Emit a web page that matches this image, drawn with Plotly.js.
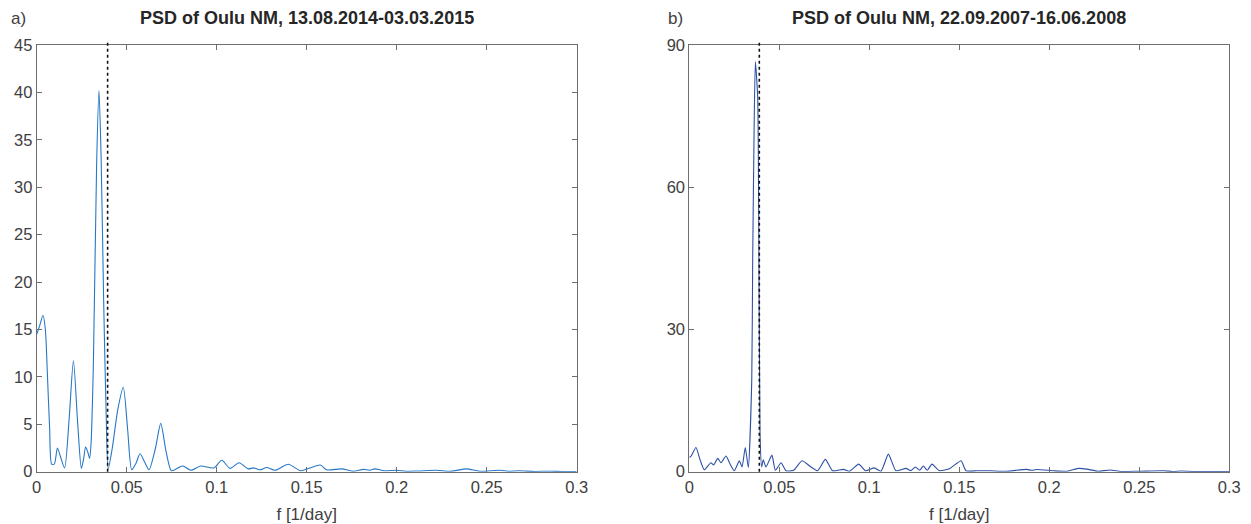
<!DOCTYPE html>
<html>
<head>
<meta charset="utf-8">
<script src="https://cdn.plot.ly/plotly-3.0.1.min.js"></script>
<style>html,body{margin:0;padding:0;background:#fff;}#chart{width:1251px;height:524px;}</style>
</head>
<body>
<div id="chart"></div>
<script>
// Panel a) PSD of Oulu NM, 13.08.2014-03.03.2015
const freqA = [0, 0.0015, 0.0035, 0.0048, 0.006, 0.0072, 0.0083, 0.0098, 0.0115, 0.0132, 0.0155, 0.018, 0.0204, 0.0228, 0.0248, 0.026, 0.0272, 0.0285, 0.0294, 0.0302, 0.0315, 0.0333, 0.0346, 0.0358, 0.0372, 0.0386, 0.0397, 0.042, 0.045, 0.0481, 0.0505, 0.0528, 0.0552, 0.0574, 0.06, 0.0624, 0.066, 0.0689, 0.072, 0.0748, 0.0785, 0.0813, 0.0856, 0.091, 0.0985, 0.1028, 0.1074, 0.1124, 0.1176, 0.1204, 0.124, 0.1278, 0.1324, 0.1398, 0.1465, 0.152, 0.1576, 0.161, 0.1694, 0.176, 0.1815, 0.185, 0.188, 0.193, 0.2, 0.205, 0.212, 0.2222, 0.23, 0.2389, 0.246, 0.2574, 0.262, 0.268, 0.276, 0.285, 0.292, 0.3];
const psdA = [14.5, 15.3, 16.5, 15.0, 10, 4.5, 0.8, 0.8, 2.5, 1.6, 0.4, 5.5, 11.7, 5, 0.35, 1.3, 2.6, 2.0, 1.4, 3, 11.5, 32.5, 40.2, 33, 18, 6, 0.3, 2.5, 6.5, 8.9, 4.5, 0.2, 0.9, 1.9, 1.0, 0.2, 2.5, 5.1, 2.0, 0.1, 0.4, 0.6, 0.15, 0.6, 0.4, 1.2, 0.35, 0.95, 0.3, 0.4, 0.2, 0.45, 0.15, 0.78, 0.1, 0.4, 0.7, 0.2, 0.3, 0.05, 0.25, 0.15, 0.3, 0.1, 0.15, 0.05, 0.08, 0.15, 0.05, 0.3, 0.05, 0.15, 0.05, 0.1, 0.03, 0.05, 0.02, 0.02];
const markerA = 0.0394;

// Panel b) PSD of Oulu NM, 22.09.2007-16.06.2008
const freqB = [0, 0.001, 0.0037, 0.006, 0.0083, 0.012, 0.0135, 0.0158, 0.0176, 0.0204, 0.0228, 0.025, 0.0278, 0.0293, 0.0311, 0.0328, 0.0347, 0.0352, 0.036, 0.0367, 0.038, 0.0386, 0.0393, 0.0402, 0.0411, 0.0426, 0.0459, 0.0478, 0.051, 0.0537, 0.058, 0.0626, 0.0676, 0.0713, 0.0756, 0.0796, 0.0856, 0.089, 0.0941, 0.098, 0.1028, 0.1065, 0.1106, 0.1148, 0.1204, 0.123, 0.1256, 0.128, 0.13, 0.1322, 0.1348, 0.139, 0.1448, 0.151, 0.1537, 0.16, 0.167, 0.176, 0.1874, 0.19, 0.193, 0.2024, 0.21, 0.2161, 0.2208, 0.227, 0.2337, 0.24, 0.25, 0.2633, 0.2685, 0.2737, 0.28, 0.288, 0.3];
const psdB = [3.0, 3.3, 5.1, 2.5, 0.4, 1.9, 1.4, 2.8, 1.9, 3.3, 1.5, 0.2, 2.3, 1.0, 5.1, 0.9, 19.4, 44, 72, 86.5, 79, 51, 8, 1.0, 2.5, 1.0, 3.5, 0.3, 1.9, 0.2, 0.3, 2.3, 1.0, 0.2, 2.6, 0.2, 0.5, 0.1, 1.6, 0.2, 0.8, 0.1, 3.7, 0.2, 0.7, 0.2, 1.0, 0.3, 1.2, 0.3, 1.6, 0.2, 0.7, 2.3, 0.2, 0.2, 0.2, 0.1, 0.5, 0.3, 0.45, 0.2, 0.1, 0.7, 0.55, 0.1, 0.35, 0.05, 0.1, 0.2, 0.05, 0.15, 0.05, 0.05, 0.02];
const markerB = 0.0389;

const xTicks = [0, 0.05, 0.1, 0.15, 0.2, 0.25, 0.3];
const xTickText = ['0', '0.05', '0.1', '0.15', '0.2', '0.25', '0.3'];
const yTicksA = [0, 5, 10, 15, 20, 25, 30, 35, 40, 45];
const yTicksB = [0, 30, 60, 90];
const titles = ['PSD of Oulu NM, 13.08.2014-03.03.2015', 'PSD of Oulu NM, 22.09.2007-16.06.2008'];
const panelLabels = ['a)', 'b)'];
const xLabel = 'f [1/day]';

const W = 1251, H = 524;
const font = 'Liberation Sans, Arial, sans-serif';
const axCol = '#6e6e6e';
const tickFont = {family: font, size: 16.5, color: '#404040'};

const traces = [
  {x: freqA, y: psdA, type: 'scatter', mode: 'lines', xaxis: 'x', yaxis: 'y',
   line: {color: '#2677c6', width: 1.1, shape: 'spline', smoothing: 0.7}, hoverinfo: 'x+y'},
  {x: freqB, y: psdB, type: 'scatter', mode: 'lines', xaxis: 'x2', yaxis: 'y2',
   line: {color: '#2c50a3', width: 1.1, shape: 'spline', smoothing: 0.5}, hoverinfo: 'x+y'}
];

const xBase = {
  range: [0, 0.3], tickvals: xTicks, ticktext: xTickText, ticks: 'inside', ticklen: 5,
  tickcolor: axCol, showline: true, linecolor: axCol, linewidth: 1, mirror: 'ticks',
  showgrid: false, zeroline: false, tickfont: tickFont,
  title: {text: xLabel, font: {family: font, size: 17, color: '#404040'}, standoff: 13}
};
const yBase = {
  ticks: 'inside', ticklen: 5, tickcolor: axCol, showline: true, linecolor: axCol, linewidth: 1,
  mirror: 'ticks', showgrid: false, zeroline: false, tickfont: tickFont
};
const yDom = [1 - 471.7 / H, 1 - 45 / H];

const layout = {
  width: W, height: H, margin: {l: 0, r: 0, t: 0, b: 0},
  paper_bgcolor: '#fff', plot_bgcolor: '#fff', showlegend: false,
  font: {family: font},
  xaxis: Object.assign({}, xBase, {domain: [36.7 / W, 576.7 / W], anchor: 'y'}),
  yaxis: Object.assign({}, yBase, {domain: yDom, range: [0, 45], tickvals: yTicksA, anchor: 'x'}),
  xaxis2: Object.assign({}, xBase, {domain: [689.3 / W, 1229.3 / W], anchor: 'y2'}),
  yaxis2: Object.assign({}, yBase, {domain: yDom, range: [0, 90], tickvals: yTicksB, anchor: 'x2'}),
  shapes: [
    {type: 'line', xref: 'x', yref: 'y domain', x0: markerA, x1: markerA, y0: 0, y1: 1.008,
     line: {color: '#111', width: 1.6, dash: 'dot'}},
    {type: 'line', xref: 'x2', yref: 'y2 domain', x0: markerB, x1: markerB, y0: 0, y1: 1.008,
     line: {color: '#111', width: 1.6, dash: 'dot'}}
  ],
  annotations: [
    {text: '<b>' + titles[0] + '</b>', xref: 'paper', yref: 'paper', x: 306.7 / W, y: 1 - 18 / H,
     xanchor: 'center', yanchor: 'middle', showarrow: false, font: {family: font, size: 18, color: '#262626'}},
    {text: '<b>' + titles[1] + '</b>', xref: 'paper', yref: 'paper', x: 959.3 / W, y: 1 - 18 / H,
     xanchor: 'center', yanchor: 'middle', showarrow: false, font: {family: font, size: 18, color: '#262626'}},
    {text: panelLabels[0], xref: 'paper', yref: 'paper', x: 9 / W, y: 1 - 18 / H,
     xanchor: 'left', yanchor: 'middle', showarrow: false, font: {family: font, size: 17, color: '#404040'}},
    {text: panelLabels[1], xref: 'paper', yref: 'paper', x: 666 / W, y: 1 - 18 / H,
     xanchor: 'left', yanchor: 'middle', showarrow: false, font: {family: font, size: 17, color: '#404040'}}
  ]
};

Plotly.newPlot('chart', traces, layout, {displayModeBar: false, staticPlot: true});
</script>
</body>
</html>
